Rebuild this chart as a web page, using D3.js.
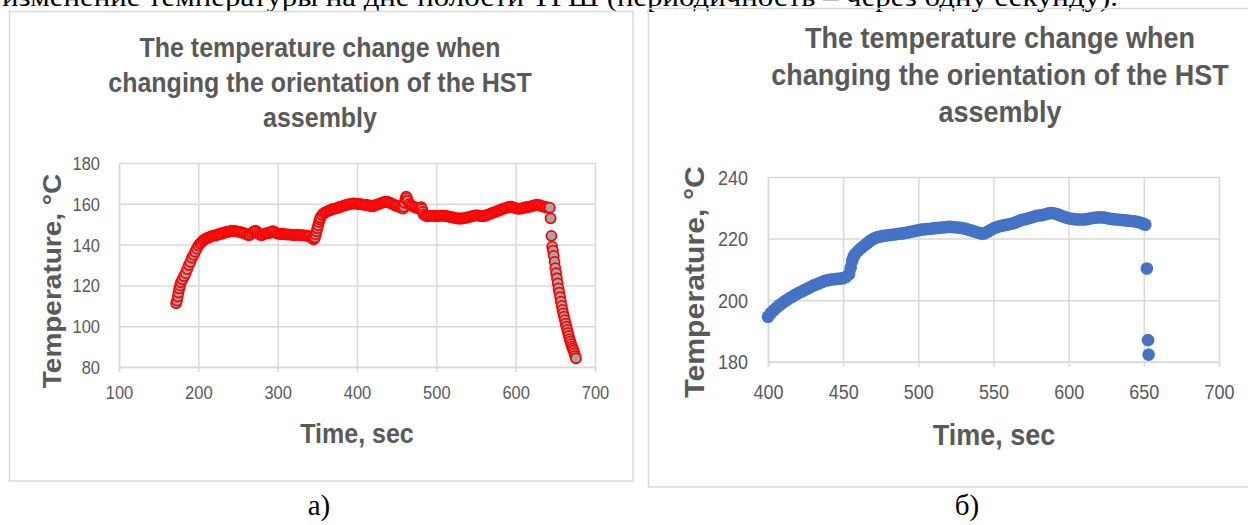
<!DOCTYPE html>
<html>
<head>
<meta charset="utf-8">
<script src="https://cdn.jsdelivr.net/npm/d3@7"></script>
<style>
  body { margin: 0; background: #fff; }
  text { font-family: "Liberation Sans", Arial, sans-serif; fill: #595959; }
  .serif { font-family: "Liberation Serif", "Times New Roman", serif; fill: #000; }
</style>
</head>
<body>
<div class="canvas"></div>
<script>
// ---- data, panel a) ----
const timeA = [172,173,174,175,176,177,178,180,182,184,186,188,190,192,194,196,198,200,202,204,206,208,210,212,214,216,218,220,222,224,226,228,230,232,234,236,238,240,242,244,246,248,250,252,254,256,258,260,262,264,266,268,270,272,274,276,278,280,282,284,286,288,290,292,294,296,298,300,302,304,306,308,310,312,314,316,318,320,322,324,326,328,330,332,334,336,338,340,342,344,345,346,347,348,349,350,351,352,353,354,356,358,360,362,364,366,368,370,372,374,376,378,380,382,384,386,388,390,392,394,396,398,400,402,404,406,408,410,412,414,416,418,420,422,424,426,428,430,432,434,436,438,440,442,444,446,448,450,452,454,456,458,459,460,461,462,463,464,466,468,470,472,474,476,478,480,481,482,483,484,486,488,490,492,494,496,498,500,502,504,506,508,510,512,514,516,518,520,522,524,526,528,530,532,534,536,538,540,542,544,546,548,550,552,554,556,558,560,562,564,566,568,570,572,574,576,578,580,582,584,586,588,590,592,594,596,598,600,602,604,606,608,610,612,614,616,618,620,622,624,626,628,630,632,634,636,638,640,642,643,644,645,646,647,648,649,650,651,652,653,654,655,656,657,658,659,660,661,662,663,664,665,666,667,668,669,670,671,672,673,674,675,676];
const tempA = [111.2,112.5,114.5,116.5,118.5,120,121.5,123,124.5,126,128,130,131.5,133.5,135,136.5,138,139.5,140.5,141.2,142,142.5,143,143.3,143.6,144,144.3,144.5,144.4,144.8,145.2,145.5,145.3,145.8,146,146.3,146.2,146.5,146.8,146.6,146.7,146.5,146.4,146.2,146,145.8,145.5,145.2,144.8,144.6,145,145.8,146.5,146.8,146.2,145.4,144.8,144.6,145,145.4,145.6,145.5,145.8,146.3,146.6,146.2,145.7,145.4,145.3,145.2,145.1,145.2,145,144.9,145,144.9,144.8,144.8,144.7,144.9,144.7,144.6,144.6,144.5,144.5,144.4,144.2,144.2,143.8,143.2,142.6,142.8,143.5,145,146.5,148,149.5,151,152.3,153.3,154.5,155.3,155.8,156.2,156.5,156.8,157.2,157.5,157.6,157.8,158.1,158.3,158.6,158.9,159.1,159.4,159.6,159.8,160,160.1,160.2,160.1,160,159.9,159.8,159.7,159.6,159.5,159.4,159.3,159,158.9,158.8,159.1,159.4,159.7,160,160.3,160.6,160.8,161,161,160.7,160.4,160,159.6,159.3,159,158.7,158.4,158,157.6,158.5,160.5,162.5,163.5,162.8,161.5,160,159.3,158.8,158.5,158.2,157.9,157.6,157.3,158.3,157.5,156,154.8,154.2,154,154,154.1,154.1,154.2,154.1,154,154,154.1,154.2,154.2,154.1,154,153.9,153.7,153.5,153.4,153.2,153,152.9,152.8,152.8,152.8,152.9,153,153.2,153.4,153.6,153.8,154,154.2,154.3,154.3,154.2,154,153.9,154,154.2,154.5,154.8,155.1,155.4,155.7,156,156.3,156.6,156.9,157.2,157.5,157.8,158,158.3,158.5,158.6,158.4,158.1,157.8,157.6,157.5,157.6,157.8,158,158.2,158.3,158.4,158.6,158.8,159,159.3,159.5,159.5,159.3,159,158.7,158.5,158.3,158.2,158,158.1,152.9,144.3,139,137,134.5,131.5,128.5,126,123.5,121,118.5,116.5,114.3,112,110,108,106.3,104.7,103,101.3,99.8,98.2,96.7,95.2,93.7,92.4,91.2,90,89,88,86.8,85.5,84.3];
const xTicksA = [100,200,300,400,500,600,700];
const yTicksA = [80,100,120,140,160,180];

// ---- data, panel б) ----
const timeB = [400,402,404,406,408,410,412,414,416,418,420,422,424,426,428,430,432,434,436,438,440,442,444,446,448,450,452,454,455,456,457,458,460,462,464,466,468,470,472,474,476,478,480,482,484,486,488,490,492,494,496,498,500,502,504,506,508,510,512,514,516,518,520,522,524,526,528,530,532,534,536,538,540,542,544,546,548,550,552,554,556,558,560,562,564,566,568,570,572,574,576,578,580,582,584,586,588,590,592,594,596,598,600,602,604,606,608,610,612,614,616,618,620,622,624,626,628,630,632,634,636,638,640,642,644,646,648,650,651,652,652.8,653.2];
const tempB = [194.6,195.8,196.8,197.7,198.5,199.2,199.9,200.5,201.1,201.7,202.2,202.7,203.2,203.7,204.2,204.7,205.1,205.5,205.9,206.3,206.5,206.7,206.8,206.9,207,207.1,207.6,208.5,210.5,212.7,214.2,215,216,216.9,217.7,218.5,219.3,219.9,220.3,220.6,220.8,221,221.1,221.2,221.3,221.5,221.6,221.7,221.9,222.1,222.3,222.5,222.7,222.9,223,223.1,223.2,223.3,223.4,223.5,223.6,223.7,223.8,223.8,223.7,223.6,223.5,223.3,223.1,222.8,222.5,222.2,221.9,221.6,221.7,222.2,222.8,223.3,223.7,224,224.2,224.4,224.6,224.8,225.1,225.5,225.9,226.2,226.4,226.7,227,227.3,227.5,227.6,227.8,228.1,228.3,228.2,228,227.6,227.2,226.9,226.6,226.4,226.3,226.2,226.2,226.2,226.3,226.5,226.7,226.8,226.9,226.9,226.8,226.6,226.4,226.3,226.2,226.1,226,225.9,225.8,225.7,225.6,225.4,225.1,224.8,224.5,210.3,187,182.3];
const xTicksB = [400,450,500,550,600,650,700];
const yTicksB = [180,200,220,240];

const titleLines = ["The temperature change when", "changing the orientation of the HST", "assembly"];
const xTitle = "Time, sec";
const yTitle = "Temperature, °C";
const topLine = "изменение температуры на дне полости ТРШ (периодичность – через одну секунду).";

const stretch = 1.12;   // the figure was stretched vertically
const gridColor = '#d9d9d9';

const svg = d3.select('.canvas').append('svg')
    .attr('width', 1248)
    .attr('height', 525);

// text of the page around the figures (top line is cut by the page edge, as in the source)
svg.append('text').attr('class', 'serif')
    .attr('x', 2).attr('y', 6)
    .attr('font-size', 28)
    .attr('textLength', 1116)
    .attr('lengthAdjust', 'spacingAndGlyphs')
    .text(topLine);

svg.append('text').attr('class', 'serif')
    .attr('x', 319).attr('y', 515).attr('text-anchor', 'middle')
    .attr('font-size', 29).text('а)');
svg.append('text').attr('class', 'serif')
    .attr('x', 967).attr('y', 515).attr('text-anchor', 'middle')
    .attr('font-size', 29).text('б)');

const drawPanel = (p) => {
    // frame
    svg.append('rect')
        .attr('x', p.frame[0]).attr('y', p.frame[1])
        .attr('width', p.frame[2]).attr('height', p.frame[3])
        .attr('fill', 'none')
        .attr('stroke', gridColor)
        .attr('stroke-width', 1.5);

    const x = d3.scaleLinear().domain(p.xDomain).range(p.xRange);
    const y = d3.scaleLinear().domain(p.yDomain).range(p.yRange);
    const w = p.xRange[1] - p.xRange[0];
    const h = p.yRange[0] - p.yRange[1];

    // gridlines
    const yGrid = svg.append('g')
        .attr('transform', `translate(${p.xRange[0]},0)`)
        .call(d3.axisLeft(y).tickValues(p.yTicks).tickSize(-w).tickFormat(''));
    const xGrid = svg.append('g')
        .attr('transform', `translate(0,${p.yRange[0]})`)
        .call(d3.axisBottom(x).tickValues(p.xTicks).tickSize(-h).tickFormat(''));
    [yGrid, xGrid].forEach(g => {
        g.select('.domain').remove();
        g.selectAll('line').attr('stroke', gridColor).attr('stroke-width', 1.5);
    });

    // axes
    const xAxisGroup = svg.append('g')
        .attr('transform', `translate(0,${p.yRange[0]})`)
        .call(d3.axisBottom(x).tickValues(p.xTicks).tickSize(5).tickPadding(0));
    xAxisGroup.select('.domain').attr('stroke', gridColor).attr('stroke-width', 1.5);
    xAxisGroup.selectAll('line').attr('stroke', gridColor).attr('stroke-width', 1.5);
    xAxisGroup.selectAll('text')
        .attr('y', null).attr('dy', null)
        .attr('transform', `translate(0,${p.xLabelOffset}) scale(1,${stretch})`)
        .attr('font-size', p.tickSize)
        .attr('font-family', '"Liberation Sans", Arial, sans-serif')
        .attr('fill', '#595959');

    const yAxisGroup = svg.append('g')
        .attr('transform', `translate(${p.xRange[0]},0)`)
        .call(d3.axisLeft(y).tickValues(p.yTicks).tickSize(0).tickPadding(0));
    yAxisGroup.select('.domain').attr('stroke', gridColor).attr('stroke-width', 1.5);
    yAxisGroup.selectAll('text')
        .attr('x', null).attr('dy', '0.35em')
        .attr('transform', `translate(${-p.yLabelPad},0) scale(1,${stretch})`)
        .attr('font-size', p.tickSize)
        .attr('font-family', '"Liberation Sans", Arial, sans-serif')
        .attr('fill', '#595959');

    // points
    svg.append('g').selectAll('circle')
        .data(p.times.map((t, i) => ({ t: t, v: p.temps[i] })))
        .enter().append('circle')
        .attr('cx', d => x(d.t))
        .attr('cy', d => y(d.v))
        .attr('r', p.r)
        .attr('fill', p.fill)
        .attr('stroke', p.stroke)
        .attr('stroke-width', p.strokeWidth);

    // chart title
    titleLines.forEach((line, i) => {
        svg.append('text')
            .attr('transform', `translate(${p.titleX},${p.titleY[i]}) scale(1,${stretch})`)
            .attr('text-anchor', 'middle')
            .attr('font-weight', 'bold')
            .attr('font-size', p.titleSize)
            .text(line);
    });

    // axis titles
    svg.append('text')
        .attr('transform', `translate(${p.xTitlePos[0]},${p.xTitlePos[1]}) scale(1,${stretch})`)
        .attr('text-anchor', 'middle')
        .attr('font-weight', 'bold')
        .attr('font-size', p.axisTitleSize)
        .text(xTitle);
    svg.append('text')
        .attr('transform', `translate(${p.yTitlePos[0]},${p.yTitlePos[1]}) rotate(-90) scale(${stretch},1)`)
        .attr('text-anchor', 'middle')
        .attr('font-weight', 'bold')
        .attr('font-size', p.axisTitleSize)
        .text(yTitle);
};

drawPanel({
    frame: [9.5, 11.5, 623.5, 469.5],
    times: timeA, temps: tempA,
    xDomain: [100, 700], xRange: [119, 595],
    yDomain: [80, 180], yRange: [367, 163],
    xTicks: xTicksA, yTicks: yTicksA,
    r: 5, fill: '#a5a5a5', stroke: '#ff0000', strokeWidth: 1.8,
    tickSize: 16.5, xLabelOffset: 32, yLabelPad: 19,
    titleX: 320, titleY: [57, 92, 127], titleSize: 25,
    axisTitleSize: 25, xTitlePos: [357, 443], yTitlePos: [61, 281]
});

drawPanel({
    frame: [648.5, 8.5, 620, 478.5],
    times: timeB, temps: tempB,
    xDomain: [400, 700], xRange: [768, 1219],
    yDomain: [180, 240], yRange: [361.7, 177],
    xTicks: xTicksB, yTicks: yTicksB,
    r: 6.3, fill: '#4472c4', stroke: 'none', strokeWidth: 0,
    tickSize: 18, xLabelOffset: 37, yLabelPad: 20,
    titleX: 1000, titleY: [48, 85, 122], titleSize: 27,
    axisTitleSize: 27, xTitlePos: [994, 445], yTitlePos: [704, 282]
});
</script>
</body>
</html>
